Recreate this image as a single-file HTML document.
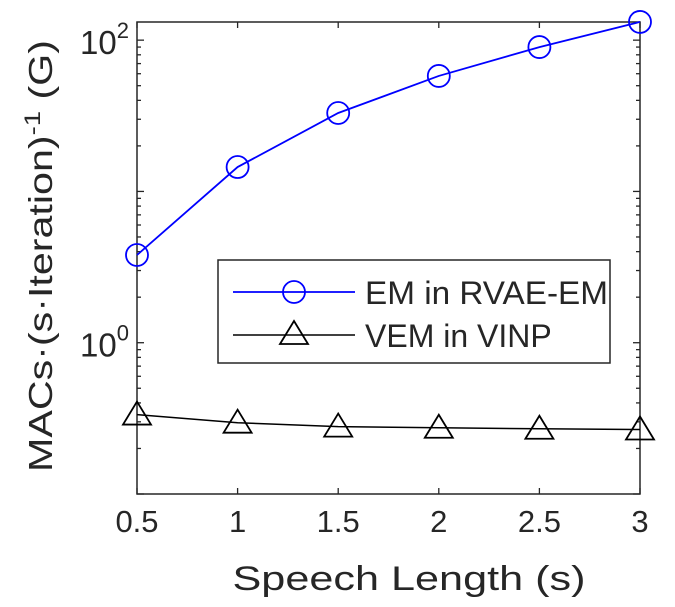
<!DOCTYPE html>
<html><head><meta charset="utf-8"><style>
body{margin:0;background:#fff;}
svg text{font-family:"Liberation Sans",Arial,sans-serif;fill:#262626;}
</style></head><body>
<svg id="chart" width="675" height="602" xmlns="http://www.w3.org/2000/svg">
<g id="grid"></g>
<g id="series"></g>
<text x="409" y="590" font-size="34" text-anchor="middle" textLength="353" lengthAdjust="spacingAndGlyphs">Speech Length (s)</text>
<text transform="translate(52,256) rotate(-90)" font-size="33" text-anchor="middle" textLength="432" lengthAdjust="spacingAndGlyphs">MACs·(s·Iteration)<tspan dy="-12" font-size="22">-1</tspan><tspan dy="12"> (G)</tspan></text>
<g>
<rect x="218" y="260" width="392" height="103" fill="#fff" stroke="#262626" stroke-width="1.5"/>
<line x1="233" y1="292" x2="355" y2="292" stroke="#0000ff" stroke-width="1.8"/>
<circle cx="294" cy="292" r="11" fill="none" stroke="#0000ff" stroke-width="1.8"/>
<text x="365" y="304" font-size="32" textLength="243" lengthAdjust="spacingAndGlyphs">EM in RVAE-EM</text>
<line x1="233" y1="335" x2="355" y2="335" stroke="#000" stroke-width="1.5"/>
<path d="M294,321 L308,344 L280,344 Z" fill="none" stroke="#000" stroke-width="1.8"/>
<text x="365" y="347" font-size="32">VEM in VINP</text>
</g>
</svg>
<script>
const xValues=[0.5,1,1.5,2,2.5,3];
const xTicks=["0.5","1","1.5","2","2.5","3"];
const emValues=[3.8,14.5,33,58,90,132];
const vemValues=[0.335,0.296,0.279,0.274,0.27,0.267];
const L=137,R=640,T=22,B=494;
const yMin=-1,yMax=2.12;
const NS="http://www.w3.org/2000/svg";
function xs(v){return L+(v-0.5)/2.5*(R-L);}
function ys(v){return B-(Math.log10(v)-yMin)/(yMax-yMin)*(B-T);}
function mk(tag,attrs,parent){const e=document.createElementNS(NS,tag);for(const k in attrs)e.setAttribute(k,attrs[k]);parent.appendChild(e);return e;}
const g=document.getElementById('grid');
const ax=mk('rect',{x:L,y:T,width:R-L,height:B-T,fill:'none',stroke:'#262626','stroke-width':1.5},g);


xValues.forEach((v,i)=>{
  mk('line',{x1:xs(v),x2:xs(v),y1:B,y2:B-6,stroke:'#262626','stroke-width':1.3},g);
  mk('line',{x1:xs(v),x2:xs(v),y1:T,y2:T+6,stroke:'#262626','stroke-width':1.3},g);
  const t=mk('text',{x:xs(v),y:B+38,'font-size':31,'text-anchor':'middle'},g);
  t.textContent=xTicks[i];
  
  
});
for(let d=-1;d<=2;d++){for(let m=1;m<10;m++){const v=m*Math.pow(10,d);if(Math.log10(v)>yMax)continue;const len=m==1?7:4;
  mk('line',{x1:L,x2:L+len,y1:ys(v),y2:ys(v),stroke:'#262626','stroke-width':1.3},g);
  mk('line',{x1:R,x2:R-len,y1:ys(v),y2:ys(v),stroke:'#262626','stroke-width':1.3},g);}}
[0,2].forEach(p=>{const t=mk('text',{x:L-8,y:ys(Math.pow(10,p))+14,'font-size':33,'text-anchor':'end'},g);
  t.innerHTML='10<tspan dy="-16" font-size="22">'+p+'</tspan>';
  
  });
const s=document.getElementById('series');
const l1=mk('polyline',{points:xValues.map((x,i)=>xs(x)+','+ys(emValues[i])).join(' '),fill:'none',stroke:'#0000ff','stroke-width':1.8},s);


const l2=mk('polyline',{points:xValues.map((x,i)=>xs(x)+','+ys(vemValues[i])).join(' '),fill:'none',stroke:'#000','stroke-width':1.5},s);


xValues.forEach((x,i)=>{
  const c=mk('circle',{cx:xs(x),cy:ys(emValues[i]),r:11,fill:'none',stroke:'#0000ff','stroke-width':1.8},s);
  
  
  const px=xs(x),py=ys(vemValues[i]);
  const p=mk('path',{d:`M${px},${py-13} L${px+14},${py+10} L${px-14},${py+10} Z`,fill:'none',stroke:'#000','stroke-width':1.8},s);
  
  
});
</script>
</body></html>
